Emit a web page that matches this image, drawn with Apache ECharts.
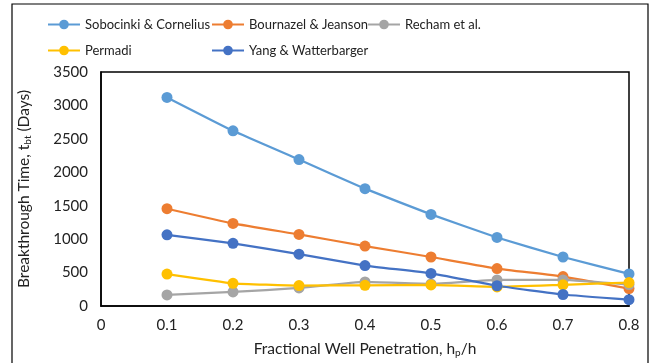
<!DOCTYPE html>
<html><head><meta charset="utf-8">
<script src="https://cdn.jsdelivr.net/npm/echarts@6/dist/echarts.min.js"></script>
<style>html,body{margin:0;padding:0;background:#fff}#c{width:651px;height:363px}</style>
</head><body><div id="c"></div>
<script>
const xValues = [0.1, 0.2, 0.3, 0.4, 0.5, 0.6, 0.7, 0.8];
const sobocinki = [3120, 2620, 2190, 1755, 1370, 1025, 733, 480];
const bournazel = [1455, 1235, 1070, 897, 733, 560, 440, 260];
const recham = [165, 210, 270, 360, 330, 390, 390, 320];
const permadi = [478, 340, 305, 310, 315, 285, 317, 350];
const yang = [1065, 937, 775, 605, 487, 303, 172, 95];
const seriesNames = ['Sobocinki & Cornelius', 'Bournazel & Jeanson', 'Recham et al.', 'Permadi', 'Yang & Watterbarger'];
const seriesColors = ['#5B9BD5', '#ED7D31', '#A5A5A5', '#FFC000', '#4472C4'];
const seriesData = [sobocinki, bournazel, recham, permadi, yang];

const FONT = 'Lato';
const chart = echarts.init(document.getElementById('c'));
const legendPos = [[42, 13], [206, 13], [362, 13], [42, 39], [206, 39]];
const legends = seriesNames.map((n, i) => ({
  data: [n], left: legendPos[i][0], top: legendPos[i][1],
  itemWidth: 32, itemHeight: 12, itemGap: 4,
  textStyle: {fontFamily: FONT, fontSize: 13, color: '#222'}
}));
chart.setOption({
  animation: false,
  textStyle: {fontFamily: FONT},
  graphic: [{type: 'rect', shape: {x: 12, y: 4, width: 636, height: 400}, style: {fill: 'none', stroke: '#000', lineWidth: 1.2}, z: 100}],
  legend: legends,
  grid: {left: 101, top: 72, right: 22, bottom: 56, show: true, borderColor: '#000', borderWidth: 1.5},
  xAxis: {
    type: 'value', min: 0, max: 0.8, interval: 0.1,
    axisLine: {show: true, lineStyle: {color: '#000', width: 1.5}}, axisTick: {show: false}, splitLine: {show: false},
    axisLabel: {fontFamily: FONT, fontSize: 15, color: '#222', margin: 12, formatter: v => String(Math.round(v * 10) / 10)},
    name: '{a|Fractional Well Penetration, h}{s|p}{a|/h}', nameLocation: 'middle', nameGap: 34,
    nameTextStyle: {rich: {a: {fontFamily: FONT, fontSize: 15.5, color: '#222'}, s: {fontFamily: FONT, fontSize: 10, color: '#222', padding: [8, 0, 0, 0]}}}
  },
  yAxis: {
    type: 'value', min: 0, max: 3500, interval: 500,
    axisLine: {show: true, lineStyle: {color: '#000', width: 1.5}}, axisTick: {show: false}, splitLine: {show: false},
    axisLabel: {fontFamily: FONT, fontSize: 15, color: '#222', margin: 13, formatter: v => String(v)},
    name: '{a|Breakthrough Time, t}{s|bt}{a| (Days)}', nameLocation: 'middle', nameGap: 68, nameRotate: 90,
    nameTextStyle: {rich: {a: {fontFamily: FONT, fontSize: 15.5, color: '#222'}, s: {fontFamily: FONT, fontSize: 10, color: '#222', padding: [8, 0, 0, 0]}}}
  },
  series: seriesNames.map((n, i) => ({
    name: n, type: 'line', smooth: 0.12,
    data: xValues.map((x, j) => [x, seriesData[i][j]]),
    symbol: 'circle', symbolSize: 11,
    lineStyle: {color: seriesColors[i], width: 2.25},
    itemStyle: {color: seriesColors[i]},
    clip: false
  }))
});
</script></body></html>
